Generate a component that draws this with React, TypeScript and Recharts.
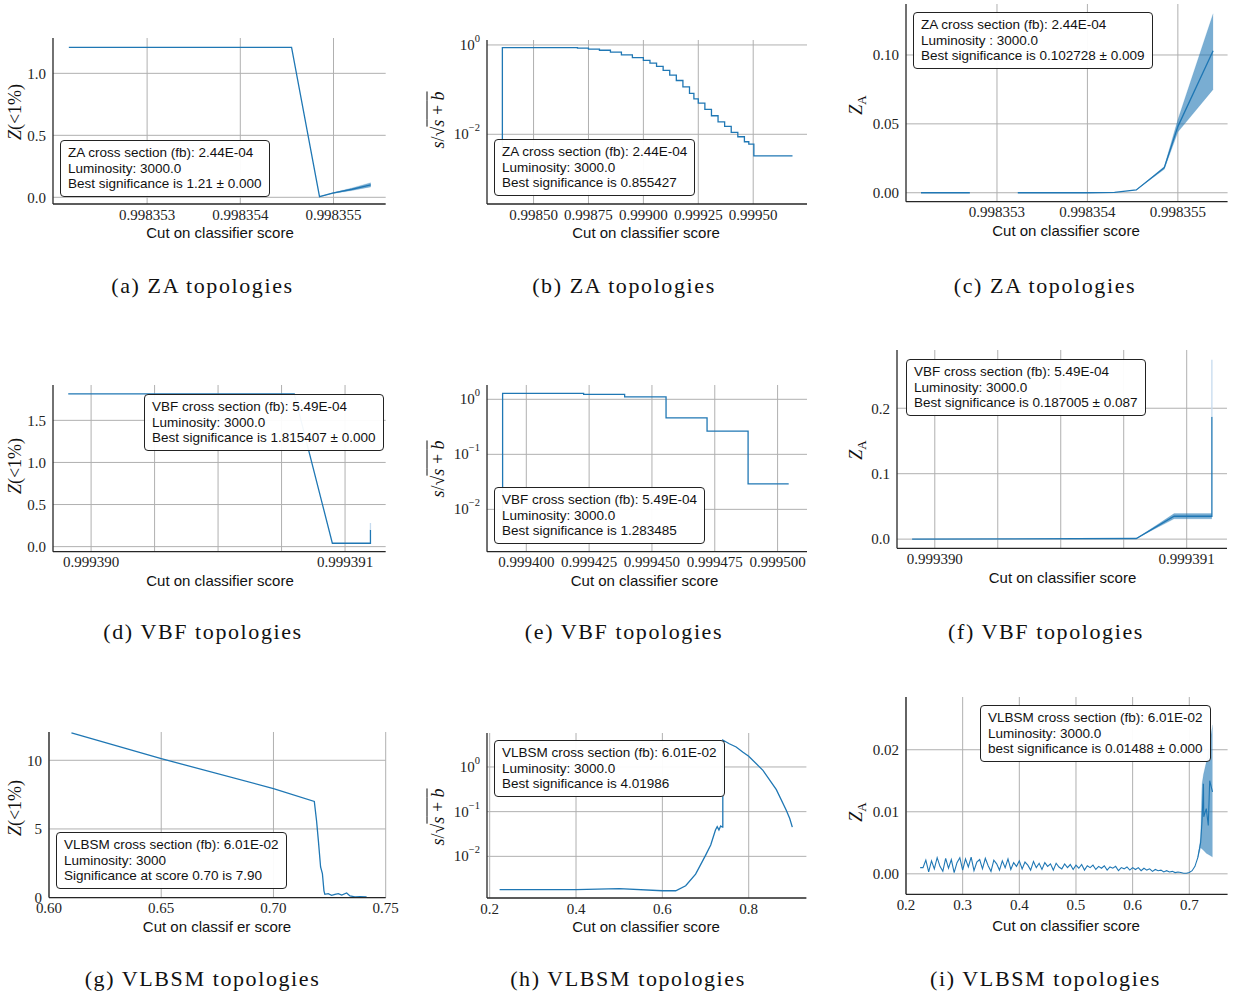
import React from 'react';
import { ComposedChart, Line, Area, XAxis, YAxis, CartesianGrid } from 'recharts';

const C0 = '#1f77b4';

// (a) ZA, Z(<1%)
const aX = [0.99835216, 0.99835455, 0.99835485, 0.99835499, 0.9983552, 0.9983554];
const aY = [1.21, 1.21, 0.005, 0.033, 0.065, 0.1];
const aBandX = [0.99835485, 0.99835499, 0.9983552, 0.9983554];
const aBandLo = [0.005, 0.03, 0.055, 0.084];
const aBandHi = [0.005, 0.036, 0.076, 0.118];

// (b) ZA, s/sqrt(s+b)
const bX = [0.998358, 0.998358, 0.9986, 0.9987, 0.99875, 0.9988, 0.99885, 0.9989, 0.99895, 0.999, 0.99903, 0.99906, 0.99909, 0.99912, 0.99915, 0.99918, 0.99921, 0.99923, 0.99925, 0.99928, 0.99931, 0.99934, 0.99937, 0.9994, 0.99943, 0.99946, 0.99948, 0.999503, 0.999679];
const bY = [0.003, 0.87, 0.87, 0.85, 0.81, 0.76, 0.69, 0.6, 0.52, 0.45, 0.39, 0.33, 0.27, 0.21, 0.16, 0.115, 0.082, 0.062, 0.05, 0.036, 0.026, 0.019, 0.015, 0.011, 0.0088, 0.0068, 0.006, 0.0033, 0.0033];

// (c) ZA, Z_A
const cX = [0.99835216, 0.9983527, 0.998353, 0.99835323, 0.998354, 0.9983543, 0.99835454, 0.99835485, 0.998355, 0.99835539];
const cY = [0, 0, null, 0, 0, 0.0002, 0.002, 0.0182, 0.048, 0.103];
const cBandX = [0.99835454, 0.99835485, 0.998355, 0.99835539];
const cBandLo = [0.002, 0.017, 0.044, 0.075];
const cBandHi = [0.002, 0.019, 0.053, 0.13];

// (d) VBF, Z(<1%)
const dX = [0.99938991, 0.9993908, 0.99939095, 0.9993911, 0.9993911];
const dY = [1.815, 1.815, 0.04, 0.04, 0.2];
const dFaintX = [0.9993911, 0.9993911];
const dFaintY = [0.2, 0.28];

// (e) VBF, s/sqrt(s+b)
const eX = [0.99939057, 0.99939057, 0.99942281, 0.99943913, 0.99945561, 0.99947193, 0.99948826, 0.99950442];
const eY = [0.003, 1.285, 1.23, 1.11, 0.46, 0.265, 0.029, 0.029];

// (f) VBF, Z_A
const fX = [0.99938991, 0.9993908, 0.99939095, 0.9993911, 0.9993911];
const fY = [0, 0.001, 0.035, 0.035, 0.187];
const fBandX = [0.9993908, 0.99939095, 0.9993911];
const fBandLo = [0.001, 0.031, 0.031];
const fBandHi = [0.001, 0.039, 0.039];
const fFaintX = [0.9993911, 0.9993911];
const fFaintY = [0.187, 0.274];

// (g) VLBSM, Z(<1%)
const gX = [0.61, 0.65, 0.7, 0.7182, 0.7192, 0.72, 0.721, 0.7218, 0.7225, 0.7229, 0.7244, 0.7259, 0.7274, 0.7289, 0.7304, 0.7326, 0.7341, 0.7363, 0.7386, 0.7415];
const gY = [12.0, 10.12, 7.94, 7.0, 5.6, 4.17, 2.23, 1.75, 0.49, 0.24, 0.29, 0.17, 0.24, 0.29, 0.19, 0.34, 0.12, 0.05, 0.07, 0.05];

// (h) VLBSM, s/sqrt(s+b)
const hX = [0.223, 0.3, 0.4, 0.5, 0.6, 0.631, 0.654, 0.677, 0.7, 0.712, 0.723, 0.727, 0.731, 0.735, 0.739, 0.74, 0.74, 0.755, 0.771, 0.786, 0.8, 0.833, 0.864, 0.887, 0.895, 0.901];
const hY = [0.0018, 0.0018, 0.0018, 0.0019, 0.0017, 0.0017, 0.0022, 0.004, 0.0105, 0.018, 0.039, 0.046, 0.039, 0.048, 0.045, 0.045, 4.0, 3.3, 2.8, 2.16, 1.74, 0.84, 0.31, 0.107, 0.07, 0.045];

// (i) VLBSM, Z_A : scan of cuts from 0.235 in steps of 0.005
const iHeadX = [0.225, 0.23];
const iHeadY = [0.001, 0.001];
const iScanStart = 0.235;
const iScanStep = 0.005;
const iScanY = [
  0.0022, 0.0003, 0.0021, 0.0008, 0.0026, 0.0012, 0.0004, 0.0025, 0.0009, 0.0023, 0.0002, 0.0018, 0.0026, 0.0006,
  0.0024, 0.0011, 0.0027, 0.0005, 0.0019, 0.0023, 0.0008, 0.0025, 0.0013, 0.0004, 0.0022, 0.0016, 0.0006, 0.0021, 0.001, 0.0024, 0.0007, 0.0018, 0.0012, 0.0021,
  0.0008, 0.0019, 0.0014, 0.0006, 0.002, 0.001, 0.0017, 0.0007, 0.0018, 0.0012, 0.0016, 0.0006, 0.0017, 0.0011, 0.0008, 0.0016, 0.001, 0.0015, 0.0007, 0.0014,
  0.0009, 0.0015, 0.0006, 0.0013, 0.001, 0.0014, 0.0007, 0.0012, 0.0009, 0.0013, 0.0006, 0.0011, 0.0009, 0.0012, 0.0005, 0.001, 0.0008, 0.0011, 0.0006, 0.001,
  0.0007, 0.001, 0.0005, 0.0009, 0.0006, 0.0008, 0.0004, 0.0007, 0.0005, 0.0006, 0.0003, 0.0005, 0.0003, 0.0004, 0.0002, 0.0003, 0.0002, 0.0001,
];
const iTailX = [0.695, 0.7, 0.705, 0.71, 0.715, 0.72, 0.7225, 0.725, 0.7255, 0.73, 0.7335, 0.736, 0.741];
const iTailY = [0.0001, 0.0002, 0.0005, 0.0012, 0.0026, 0.005, 0.0085, 0.0145, 0.0092, 0.0105, 0.0078, 0.015, 0.0132];
const iBandX = [0.715, 0.72, 0.7225, 0.725, 0.73, 0.736, 0.741];
const iBandLo = [0.0025, 0.0042, 0.004, 0.0038, 0.0033, 0.003, 0.0027];
const iBandHi = [0.0027, 0.0058, 0.0145, 0.016, 0.018, 0.021, 0.024];

const zip = (xs: number[], ys: (number | null)[]) => xs.map((x, i) => ({ x, y: ys[i] }));
const zipBand = (xs: number[], lo: number[], hi: number[]) => xs.map((x, i) => ({ x, band: [lo[i], hi[i]] }));

const iScanX = iScanY.map((_, i) => +(iScanStart + i * iScanStep).toFixed(3));
const iLine = [...zip(iHeadX, iHeadY), ...zip(iScanX, iScanY), ...zip(iTailX, iTailY)];

const SERIF = '"Liberation Serif", "Times New Roman", serif';
const SANS = '"Liberation Sans", Arial, sans-serif';

const LogTick = (props: any) => {
  const { x, y, payload } = props;
  const e = Math.round(Math.log10(payload.value));
  return (
    <text x={x} y={y} textAnchor="end" dominantBaseline="central" fill="#222" fontFamily={SERIF} fontSize={15}>
      10<tspan dy={-7} fontSize={10.5}>{e < 0 ? '\u2212' + -e : e}</tspan>
    </text>
  );
};

const zLabel = <span><i>Z</i>(&lt;1%)</span>;
const snrLabel = (
  <span><i>s</i>/√<span style={{ textDecoration: 'overline' }}><i>s</i> + <i>b</i></span></span>
);
const zaLabel = <span><i>Z</i><sub style={{ fontSize: 13 }}>A</sub></span>;

const fx = (d: number) => (v: number) => v.toFixed(d);
const endsOnly = (lo: number, hi: number) => (v: number) =>
  Math.abs(v - lo) < 1e-9 || Math.abs(v - hi) < 1e-9 ? v.toFixed(6) : '';

type LineSpec = { data: any[]; type?: 'linear' | 'stepAfter'; color?: string; width?: number };
type Spec = {
  plot: [number, number, number, number];
  xDomain: [number, number];
  xTicks: number[];
  xFmt: (v: number) => string;
  yDomain: [number, number];
  yTicks: number[];
  yFmt?: (v: number) => string;
  log?: boolean;
  lines: LineSpec[];
  bands?: any[][];
  legend: string[];
  legendPos: [number, number];
  ylabel: React.ReactNode;
  ylabelPos: [number, number];
  xlabel: string;
  xlabelPos: [number, number];
  caption: string;
  captionPos: [number, number];
};

const XLAB = 'Cut on classifier score';

const specs: Spec[] = [
  {
    plot: [53.3, 38, 386, 204],
    xDomain: [0.99835199, 0.99835556], xTicks: [0.998353, 0.998354, 0.998355], xFmt: fx(6),
    yDomain: [-0.054, 1.285], yTicks: [0, 0.5, 1.0], yFmt: fx(1),
    lines: [{ data: zip(aX, aY) }], bands: [zipBand(aBandX, aBandLo, aBandHi)],
    legend: ['ZA cross section (fb): 2.44E-04', 'Luminosity: 3000.0', 'Best significance is 1.21 ± 0.000'],
    legendPos: [60, 140], ylabel: zLabel, ylabelPos: [15, 112], xlabel: XLAB, xlabelPos: [220, 232],
    caption: '(a) ZA topologies', captionPos: [202.5, 286],
  },
  {
    plot: [486.7, 40, 806.7, 204],
    xDomain: [0.998288, 0.999745], xTicks: [0.9985, 0.99875, 0.999, 0.99925, 0.9995], xFmt: fx(5),
    yDomain: [0.000275, 1.29], yTicks: [0.01, 1], log: true,
    lines: [{ data: zip(bX, bY), type: 'stepAfter' }],
    legend: ['ZA cross section (fb): 2.44E-04', 'Luminosity: 3000.0', 'Best significance is 0.855427'],
    legendPos: [494, 139], ylabel: snrLabel, ylabelPos: [438, 120], xlabel: XLAB, xlabelPos: [646, 232],
    caption: '(b) ZA topologies', captionPos: [624, 286],
  },
  {
    plot: [905.7, 4, 1227.3, 201.7],
    xDomain: [0.998351994, 0.99835555], xTicks: [0.998353, 0.998354, 0.998355], xFmt: fx(6),
    yDomain: [-0.0065, 0.137], yTicks: [0, 0.05, 0.1], yFmt: fx(2),
    lines: [{ data: zip(cX, cY) }], bands: [zipBand(cBandX, cBandLo, cBandHi)],
    legend: ['ZA cross section (fb): 2.44E-04', 'Luminosity : 3000.0', 'Best significance is 0.102728 ± 0.009'],
    legendPos: [913, 12], ylabel: zaLabel, ylabelPos: [858, 105], xlabel: XLAB, xlabelPos: [1066, 230],
    caption: '(c) ZA topologies', captionPos: [1045, 286],
  },
  {
    plot: [53.3, 385, 386, 551.7],
    xDomain: [0.99938985, 0.99939116], xTicks: [0.99939, 0.99939025, 0.9993905, 0.99939075, 0.999391],
    xFmt: endsOnly(0.99939, 0.999391),
    yDomain: [-0.06, 1.92], yTicks: [0, 0.5, 1.0, 1.5], yFmt: fx(1),
    lines: [{ data: zip(dX, dY) }, { data: zip(dFaintX, dFaintY), color: '#c6dbef' }],
    legend: ['VBF cross section (fb): 5.49E-04', 'Luminosity: 3000.0', 'Best significance is 1.815407 ± 0.000'],
    legendPos: [144, 394], ylabel: zLabel, ylabelPos: [15, 466], xlabel: XLAB, xlabelPos: [220, 580],
    caption: '(d) VBF topologies', captionPos: [203, 632],
  },
  {
    plot: [486.7, 385, 806.7, 551.7],
    xDomain: [0.99938436, 0.9995117], xTicks: [0.9994, 0.999425, 0.99945, 0.999475, 0.9995], xFmt: fx(6),
    yDomain: [0.0017, 1.82], yTicks: [0.01, 0.1, 1], log: true,
    lines: [{ data: zip(eX, eY), type: 'stepAfter' }],
    legend: ['VBF cross section (fb): 5.49E-04', 'Luminosity: 3000.0', 'Best significance is 1.283485'],
    legendPos: [494, 487], ylabel: snrLabel, ylabelPos: [438, 469], xlabel: XLAB, xlabelPos: [644.5, 580],
    caption: '(e) VBF topologies', captionPos: [624, 632],
  },
  {
    plot: [897.3, 350, 1227.3, 548.3],
    xDomain: [0.99938985, 0.99939116], xTicks: [0.99939, 0.99939025, 0.9993905, 0.99939075, 0.999391],
    xFmt: endsOnly(0.99939, 0.999391),
    yDomain: [-0.014, 0.289], yTicks: [0, 0.1, 0.2], yFmt: fx(1),
    lines: [{ data: zip(fX, fY) }, { data: zip(fFaintX, fFaintY), color: '#c6dbef' }],
    bands: [zipBand(fBandX, fBandLo, fBandHi)],
    legend: ['VBF cross section (fb): 5.49E-04', 'Luminosity: 3000.0', 'Best significance is 0.187005 ± 0.087'],
    legendPos: [906, 359], ylabel: zaLabel, ylabelPos: [858, 450], xlabel: XLAB, xlabelPos: [1062.5, 577],
    caption: '(f) VBF topologies', captionPos: [1046, 632],
  },
  {
    plot: [49.3, 731.7, 386, 897.3],
    xDomain: [0.6, 0.75], xTicks: [0.6, 0.65, 0.7, 0.75], xFmt: fx(2),
    yDomain: [0, 12.06], yTicks: [0, 5, 10], yFmt: fx(0),
    lines: [{ data: zip(gX, gY) }],
    legend: ['VLBSM cross section (fb): 6.01E-02', 'Luminosity: 3000', 'Significance at score 0.70 is 7.90'],
    legendPos: [56, 832], ylabel: zLabel, ylabelPos: [15, 808], xlabel: 'Cut on classif er score', xlabelPos: [217, 926],
    caption: '(g) VLBSM topologies', captionPos: [202.5, 979],
  },
  {
    plot: [487.3, 732.7, 806.7, 897.7],
    xDomain: [0.1938, 0.9336], xTicks: [0.2, 0.4, 0.6, 0.8], xFmt: fx(1),
    yDomain: [0.00117, 5.75], yTicks: [0.01, 0.1, 1], log: true,
    lines: [{ data: zip(hX, hY) }],
    legend: ['VLBSM cross section (fb): 6.01E-02', 'Luminosity: 3000.0', 'Best significance is 4.01986'],
    legendPos: [494, 740], ylabel: snrLabel, ylabelPos: [438, 817], xlabel: XLAB, xlabelPos: [646, 926],
    caption: '(h) VLBSM topologies', captionPos: [628, 979],
  },
  {
    plot: [905.7, 696.7, 1227.3, 894],
    xDomain: [0.2, 0.7676], xTicks: [0.2, 0.3, 0.4, 0.5, 0.6, 0.7], xFmt: fx(1),
    yDomain: [-0.0033, 0.0285], yTicks: [0, 0.01, 0.02], yFmt: fx(2),
    lines: [{ data: iLine, width: 1.1 }],
    bands: [zipBand(iBandX, iBandLo, iBandHi)],
    legend: ['VLBSM cross section (fb): 6.01E-02', 'Luminosity: 3000.0', 'best significance is 0.01488 ± 0.000'],
    legendPos: [980, 705], ylabel: zaLabel, ylabelPos: [858, 812], xlabel: XLAB, xlabelPos: [1066, 925],
    caption: '(i) VLBSM topologies', captionPos: [1045.5, 979],
  },
];

const YW = 70;
const XH = 34;
const PT = 16;
const PR = 20;

const centered: React.CSSProperties = { position: 'absolute', transform: 'translate(-50%, -50%)', whiteSpace: 'nowrap' };

const Panel = ({ s }: { s: Spec }) => {
  const [l, t, r, b] = s.plot;
  const w = r - l + YW + PR;
  const h = b - t + PT + XH;
  const tickStyle = { fill: '#222', fontSize: 15, fontFamily: SERIF };
  return (
    <>
      <div style={{ position: 'absolute', left: l - YW, top: t - PT }}>
        <ComposedChart width={w} height={h} margin={{ top: PT, right: PR, left: 0, bottom: 0 }}>
          <CartesianGrid stroke="#b0b0b0" strokeWidth={1} syncWithTicks />
          <XAxis
            type="number" dataKey="x" domain={s.xDomain} ticks={s.xTicks} allowDataOverflow interval={0}
            tickFormatter={s.xFmt} height={XH} tickLine={false} tickSize={0} tickMargin={5}
            axisLine={{ stroke: '#262626', strokeWidth: 1.3 }} tick={tickStyle}
          />
          <YAxis
            type="number" width={YW} scale={s.log ? 'log' : 'auto'} domain={s.yDomain} ticks={s.yTicks}
            allowDataOverflow interval={0} tickFormatter={s.yFmt} tickLine={false} tickSize={0} tickMargin={7}
            axisLine={{ stroke: '#262626', strokeWidth: 1.3 }} tick={s.log ? <LogTick /> : tickStyle}
          />
          {(s.bands || []).map((band, i) => (
            <Area key={'b' + i} data={band} dataKey="band" type="linear" stroke={C0} strokeOpacity={0.3}
              strokeWidth={0.5} fill={C0} fillOpacity={0.6} isAnimationActive={false} />
          ))}
          {s.lines.map((ln, i) => (
            <Line key={'l' + i} data={ln.data} dataKey="y" type={ln.type || 'linear'} stroke={ln.color || C0}
              strokeWidth={ln.width || 1.3} dot={false} activeDot={false} connectNulls={false} isAnimationActive={false} />
          ))}
        </ComposedChart>
      </div>
      <div
        style={{
          position: 'absolute', left: s.legendPos[0], top: s.legendPos[1], padding: '4px 7px',
          border: '1px solid #222', borderRadius: 4, background: 'rgba(255,255,255,0.95)',
          fontFamily: SANS, fontSize: 13.5, lineHeight: '15.7px', color: '#111', whiteSpace: 'nowrap',
        }}
      >
        {s.legend.map((line, i) => <div key={i}>{line}</div>)}
      </div>
      <div
        style={{
          ...centered, left: s.ylabelPos[0], top: s.ylabelPos[1],
          transform: 'translate(-50%, -50%) rotate(-90deg)', fontFamily: SERIF, fontSize: 18, color: '#111',
        }}
      >
        {s.ylabel}
      </div>
      <div style={{ ...centered, left: s.xlabelPos[0], top: s.xlabelPos[1], fontFamily: SANS, fontSize: 15, color: '#111' }}>
        {s.xlabel}
      </div>
      <div
        style={{
          ...centered, left: s.captionPos[0], top: s.captionPos[1], fontFamily: SERIF, fontSize: 22,
          letterSpacing: 1.6, color: '#111',
        }}
      >
        {s.caption}
      </div>
    </>
  );
};

export default function App() {
  return (
    <div style={{ position: 'absolute', left: 0, top: 0, width: 1234, height: 996, background: '#fff', overflow: 'hidden' }}>
      {specs.map((s, i) => <Panel key={i} s={s} />)}
    </div>
  );
}
